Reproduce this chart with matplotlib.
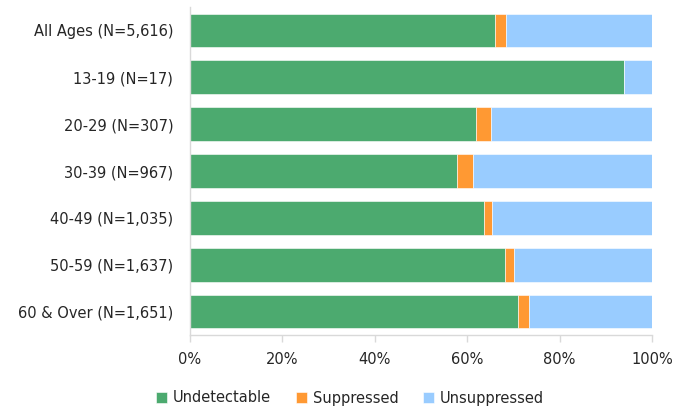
import numpy as np
import matplotlib
matplotlib.use("Agg")
import matplotlib.pyplot as plt

categories = ["All Ages (N=5,616)", "13-19 (N=17)", "20-29 (N=307)", "30-39 (N=967)",
              "40-49 (N=1,035)", "50-59 (N=1,637)", "60 & Over (N=1,651)"]
undetectable = [66.1, 94.0, 61.9, 57.9, 63.7, 68.1, 71.0]
suppressed = [2.4, 0.0, 3.3, 3.4, 1.6, 2.0, 2.3]
unsuppressed = [100 - u - s for u, s in zip(undetectable, suppressed)]

series = ["Undetectable", "Suppressed", "Unsuppressed"]
colors = ["#4CAA6F", "#FF9933", "#99CCFF"]
GRID = "#D9D9D9"
TEXT = "#262626"

plt.rcParams["font.family"] = ["DejaVu Sans"]

fig = plt.figure(figsize=(6.88, 4.16), dpi=100)
ax = fig.add_axes([190 / 688, 1 - 335 / 416, 462 / 688, 328 / 416])

y = np.arange(len(categories))
left = np.zeros(len(categories))
for name, vals, c in zip(series, [undetectable, suppressed, unsuppressed], colors):
    ax.barh(y, vals, left=left, height=0.72, color=c, label=name,
            edgecolor="white", linewidth=0.4)
    left += np.array(vals)

ax.set_xlim(0, 100)
ax.set_ylim(len(categories) - 0.5, -0.5)
ax.set_yticks(y)
ax.set_yticklabels(categories, fontsize=10.5, color=TEXT)
ax.tick_params(axis="y", length=0, pad=12)
ax.set_xticks(np.arange(0, 101, 20))
ax.set_xticklabels([f"{v}%" for v in range(0, 101, 20)], fontsize=10.5, color=TEXT)
ax.tick_params(axis="x", length=5, width=1, color=GRID, pad=7)

for s in ["top", "right"]:
    ax.spines[s].set_visible(False)
for s in ["left", "bottom"]:
    ax.spines[s].set_color(GRID)
    ax.spines[s].set_linewidth(1)

fig.legend(loc="center", bbox_to_anchor=(350 / 688, 1 - 398 / 416), ncol=3,
           frameon=False, fontsize=10.5, handlelength=0.75, handleheight=0.75,
           handletextpad=0.4, columnspacing=1.7, labelcolor=TEXT)

fig.savefig("out.png", dpi=100)
